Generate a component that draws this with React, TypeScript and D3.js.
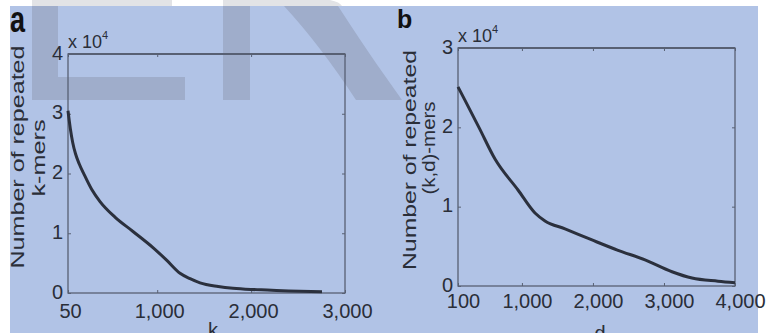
import React, { useEffect, useRef } from "react";
import * as d3 from "d3";

// panel a: repeated k-mers vs k (counts in units of 10^4)
const kValues = [50, 75, 100, 130, 170, 220, 300, 391, 550, 742, 955, 1100, 1243, 1350, 1456, 1650, 1807, 2000, 2170, 2400, 2755];
const kCounts = [3.05, 2.75, 2.52, 2.33, 2.16, 1.99, 1.74, 1.53, 1.27, 1.03, 0.76, 0.55, 0.33, 0.24, 0.17, 0.11, 0.08, 0.06, 0.05, 0.035, 0.02];
const kTicks = [50, 1000, 2000, 3000];
const kCountTicks = [0, 1, 2, 3, 4];

// panel b: repeated (k,d)-mers vs d (counts in units of 10^4)
const dValues = [100, 199, 400, 621, 945, 1184, 1325, 1607, 1987, 2353, 2733, 3113, 3395, 3761, 4000];
const dCounts = [2.51, 2.34, 1.99, 1.6, 1.21, 0.92, 0.82, 0.72, 0.58, 0.45, 0.33, 0.18, 0.1, 0.06, 0.04];
const dTicks = [100, 1000, 2000, 3000, 4000];
const dCountTicks = [0, 1, 2, 3];

const width = 770;
const height = 333;
const bg = "#b1c3e6";
const shade = "#9fadcb";
const paleShade = "#e2e3e6";
const ink = "#2b303d";
const frame = "#586073";
const textColor = "#2a2e38";
const font = "'Liberation Sans', Arial, Helvetica, sans-serif";

const panels = [
  {
    letter: "a",
    xs: kValues,
    ys: kCounts,
    xTicks: kTicks,
    yTicks: kCountTicks,
    xDomain: [50, 3000],
    yDomain: [0, 4],
    left: 68,
    right: 345,
    top: 54,
    bottom: 293,
    tickLabelY: 25,
    tickLabelDx: 2,
    letterX: 10,
    letterY: 32,
    letterScale: 1.35,
    letterSize: 27,
    xName: "k",
    xNameX: 213,
    xNameY: 337,
    yLines: [
      { text: "Number of repeated", x: 24, y: 157, len: 223 },
      { text: "k-mers", x: 45, y: 158, len: 77 },
    ],
  },
  {
    letter: "b",
    xs: dValues,
    ys: dCounts,
    xTicks: dTicks,
    yTicks: dCountTicks,
    xDomain: [100, 4000],
    yDomain: [0, 3],
    left: 458,
    right: 735,
    top: 48,
    bottom: 286,
    tickLabelY: 22,
    tickLabelDx: 5,
    letterX: 397,
    letterY: 28,
    letterScale: 1.05,
    letterSize: 25,
    xName: "d",
    xNameX: 600,
    xNameY: 340,
    yLines: [
      { text: "Number of repeated", x: 416, y: 160, len: 220 },
      { text: "(k,d)-mers", x: 435, y: 148, len: 93 },
    ],
  },
];

const App = () => {
  const svgRef = useRef<SVGSVGElement>(null);

  useEffect(() => {
    if (!svgRef.current) return;
    const svg = d3.select(svgRef.current);
    svg.selectAll("*").remove();

    // page background, white margins
    svg.append("rect").attr("width", width).attr("height", height).attr("fill", "white");
    svg.append("rect").attr("x", 10).attr("y", 6).attr("width", 748).attr("height", height - 6).attr("fill", bg);

    // faint "ER" watermark
    const wm = svg.append("g");
    wm.append("rect").attr("x", 32).attr("y", 0).attr("width", 140).attr("height", 6).attr("fill", paleShade);
    wm.append("path").attr("d", "M223,0 L330,0 Q340,2 342,6 L223,6 Z").attr("fill", paleShade);
    wm.append("rect").attr("x", 32).attr("y", 6).attr("width", 26).attr("height", 94).attr("fill", shade);
    wm.append("rect").attr("x", 58).attr("y", 77).attr("width", 127).attr("height", 23).attr("fill", shade);
    wm.append("rect").attr("x", 223).attr("y", 6).attr("width", 27).attr("height", 94).attr("fill", shade);
    wm.append("path").attr("d", "M284,6 L338,6 Q360,40 378,66 L402,100 L356,100 Q320,45 284,6 Z").attr("fill", shade);

    panels.forEach((p) => {
      const x = d3.scaleLinear().domain(p.xDomain).range([p.left, p.right]);
      const y = d3.scaleLinear().domain(p.yDomain).range([p.bottom, p.top]);
      const g = svg.append("g");

      g.append("rect")
        .attr("x", p.left)
        .attr("y", p.top)
        .attr("width", p.right - p.left)
        .attr("height", p.bottom - p.top)
        .attr("fill", "none")
        .attr("stroke", frame)
        .attr("stroke-width", 1.3);
      g.append("line")
        .attr("x1", p.left)
        .attr("x2", p.right)
        .attr("y1", p.top)
        .attr("y2", p.top)
        .attr("stroke", frame)
        .attr("stroke-width", 2.2);

      const styleAxis = (sel: any) => {
        sel.select(".domain").remove();
        sel.selectAll(".tick line").attr("stroke", frame).attr("stroke-width", 1);
        sel.selectAll("text")
          .attr("fill", textColor)
          .style("font-family", font)
          .style("font-size", "20px");
      };

      g.append("g")
        .attr("transform", `translate(0,${p.bottom})`)
        .call(d3.axisBottom(x).tickValues(p.xTicks).tickSize(-3).tickFormat(d3.format(",")))
        .call(styleAxis)
        .selectAll("text")
        .attr("y", p.tickLabelY)
        .attr("dy", 0)
        .attr("dx", p.tickLabelDx);

      g.append("g")
        .attr("transform", `translate(0,${p.top})`)
        .call(d3.axisTop(x).tickValues(p.xTicks).tickSize(-3).tickFormat(() => ""))
        .call(styleAxis);

      g.append("g")
        .attr("transform", `translate(${p.left},0)`)
        .call(d3.axisLeft(y).tickValues(p.yTicks).tickSize(-3).tickPadding(5).tickFormat(d3.format("d")))
        .call(styleAxis)
        .selectAll("text")
        .attr("dy", "0.25em");

      g.append("g")
        .attr("transform", `translate(${p.right},0)`)
        .call(d3.axisRight(y).tickValues(p.yTicks).tickSize(-3).tickFormat(() => ""))
        .call(styleAxis);

      // x 10^4 multiplier
      const mult = g.append("text")
        .attr("x", p.left)
        .attr("y", p.top - 6)
        .attr("fill", textColor)
        .style("font-family", font)
        .style("font-size", "18px");
      mult.append("tspan").text("x 10");
      mult.append("tspan").attr("dy", -9).style("font-size", "11px").text("4");

      const points = p.xs.map((v, i) => [v, p.ys[i]] as [number, number]);
      const line = d3
        .line<[number, number]>()
        .x((d) => x(d[0]))
        .y((d) => y(d[1]))
        .curve(d3.curveMonotoneX);

      g.append("path")
        .datum(points)
        .attr("fill", "none")
        .attr("stroke", ink)
        .attr("stroke-width", 3)
        .attr("stroke-linejoin", "round")
        .attr("d", line);

      // panel letter
      g.append("text")
        .attr("transform", `translate(${p.letterX},${p.letterY}) scale(1,${p.letterScale})`)
        .attr("fill", "#111")
        .style("font-family", font)
        .style("font-weight", "bold")
        .style("font-size", `${p.letterSize}px`)
        .text(p.letter);

      // axis names (cut by the bottom edge, as in the source figure)
      g.append("text")
        .attr("x", p.xNameX)
        .attr("y", p.xNameY)
        .attr("text-anchor", "middle")
        .attr("fill", textColor)
        .style("font-family", font)
        .style("font-size", "20px")
        .text(p.xName);

      p.yLines.forEach((l) => {
        g.append("text")
          .attr("transform", `translate(${l.x},${l.y}) rotate(-90)`)
          .attr("text-anchor", "middle")
          .attr("textLength", l.len)
          .attr("lengthAdjust", "spacingAndGlyphs")
          .attr("fill", textColor)
          .style("font-family", font)
          .style("font-size", "19px")
          .text(l.text);
      });
    });
  }, []);

  return (
    <svg
      ref={svgRef}
      width={width}
      height={height}
      style={{ position: "absolute", left: 0, top: 0, display: "block" }}
    ></svg>
  );
};

export default App;
